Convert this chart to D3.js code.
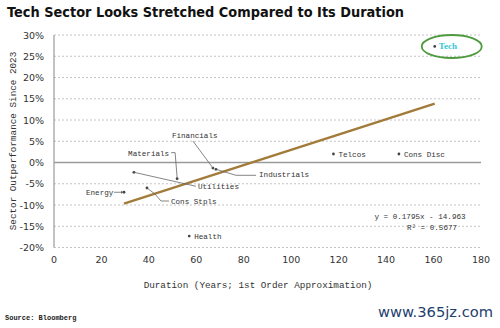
<!DOCTYPE html>
<html><head><meta charset="utf-8">
<script src="https://cdn.jsdelivr.net/npm/d3@7"></script>
<style>body{margin:0;background:#fff}svg{display:block}</style>
</head><body>
<svg id="c" width="500" height="328"></svg>
<script>
const sectors = ["Energy","Utilities","Cons Stpls","Materials","Financials","Industrials","Health","Telcos","Cons Disc","Tech"];
const duration = [29.5, 33.7, 39.2, 51.9, 67.0, 68.3, 57.0, 117.8, 145.4, 160.5];
const outperf = [-7.0, -2.3, -6.0, -3.8, -1.3, -1.6, -17.3, 2.0, 2.0, 27.3];
const yTicks = [-20,-15,-10,-5,0,5,10,15,20,25,30];
const xTicks = [0,20,40,60,80,100,120,140,160,180];
const slope = 0.1795, intercept = -14.963, r2 = 0.5677;

const svg = d3.select("#c");
const x = d3.scaleLinear().domain([0,180]).range([54,481]);
const y = d3.scaleLinear().domain([-20,30]).range([247.5,35]);
const mono = "'Liberation Mono','DejaVu Sans Mono',monospace";
const sans = "'DejaVu Sans',Verdana,sans-serif";

// title
svg.append("text").attr("x",7).attr("y",17).attr("font-family",sans).attr("font-weight","bold")
  .attr("font-size",14.5).attr("fill","#111").attr("textLength",397).attr("lengthAdjust","spacingAndGlyphs")
  .text("Tech Sector Looks Stretched Compared to Its Duration");

// gridlines
svg.append("g").selectAll("line").data(yTicks.filter(d=>d!==0)).join("line")
  .attr("x1",x(0)).attr("x2",x(180)).attr("y1",d=>y(d)).attr("y2",d=>y(d))
  .attr("stroke","#c4c4c4").attr("stroke-width",1).attr("stroke-dasharray","2,2");
// zero line
svg.append("line").attr("x1",x(0)).attr("x2",x(180)).attr("y1",y(0)).attr("y2",y(0))
  .attr("stroke","#9a9a9a").attr("stroke-width",1.5);
// y axis line
svg.append("line").attr("x1",x(0)).attr("x2",x(0)).attr("y1",y(30)).attr("y2",y(-20))
  .attr("stroke","#9a9a9a").attr("stroke-width",1.2);

// y tick labels
svg.append("g").selectAll("text").data(yTicks).join("text")
  .attr("x",44).attr("y",d=>y(d)+3.5).attr("text-anchor","end")
  .attr("font-family",sans).attr("font-size",9.5).attr("fill","#333").text(d=>d+"%");
// x tick labels
svg.append("g").selectAll("text").data(xTicks).join("text")
  .attr("x",d=>x(d)).attr("y",263).attr("text-anchor","middle")
  .attr("font-family",sans).attr("font-size",9.5).attr("fill","#333").text(d=>d);

// axis titles
svg.append("text").attr("x",258).attr("y",288).attr("text-anchor","middle")
  .attr("font-family",mono).attr("font-size",9.3).attr("fill","#333")
  .text("Duration (Years; 1st Order Approximation)");
svg.append("text").attr("transform","translate(16,141) rotate(-90)").attr("text-anchor","middle")
  .attr("font-family",mono).attr("font-size",9.3).attr("fill","#333")
  .text("Sector Outperformance Since 2023");

// trend line
const xmin = d3.min(duration), xmax = d3.max(duration);
svg.append("line").attr("x1",x(xmin)).attr("y1",y(slope*xmin+intercept))
  .attr("x2",x(xmax)).attr("y2",y(slope*xmax+intercept))
  .attr("stroke","#a27b3a").attr("stroke-width",2.5);

// points
const pts = sectors.map((s,i)=>({s, dx:duration[i], dy:outperf[i]}));
svg.append("g").selectAll("circle").data(pts).join("circle")
  .attr("cx",d=>x(d.dx)).attr("cy",d=>y(d.dy)).attr("r",1.4).attr("fill","#444");

const lab = (tx,ty,t,anchor,col,fs) => svg.append("text").attr("x",tx).attr("y",ty)
  .attr("text-anchor",anchor||"start").attr("font-family",mono).attr("font-size",fs||7.6)
  .attr("fill",col||"#333").text(t);
const P = name => { const i = sectors.indexOf(name); return [x(duration[i]), y(outperf[i])]; };
const conn = (pts2) => svg.append("path").attr("d",d3.line()(pts2)).attr("fill","none")
  .attr("stroke","#666").attr("stroke-width",0.8);

// Energy
{ const [px,py]=P("Energy"); lab(px-38,py+2.5,"Energy","start");
  conn([[px-10,py],[px-3,py]]);
  svg.append("path").attr("d",`M${px-3},${py-1.5}L${px-0.5},${py}L${px-3},${py+1.5}Z`).attr("fill","#666"); }
// Materials
{ const [px,py]=P("Materials"); lab(px-49,py-23,"Materials","start");
  conn([[px-6,py-26],[px-2,py-26],[px,py-1]]); }
// Financials
{ const [px,py]=P("Financials"); lab(px-41,py-30,"Financials","start");
  conn([[px-20,py-27],[px,py]]); }
// Industrials
{ const [px,py]=P("Industrials"); lab(px+43,py+8,"Industrials","start");
  conn([[px,py],[px+20,py+6],[px+40,py+6]]); }
// Utilities
{ const [px,py]=P("Utilities"); lab(px+64,py+17,"Utilities","start");
  conn([[px,py],[px+62,py+14]]); }
// Cons Stpls
{ const [px,py]=P("Cons Stpls"); lab(px+24,py+16,"Cons Stpls","start");
  conn([[px,py],[px+8,py+6],[px+14,py+13],[px+22,py+13]]); }
// Health, Telcos, Cons Disc
["Health","Telcos","Cons Disc"].forEach(n=>{ const [px,py]=P(n); lab(px+5,py+2.6,n,"start"); });
// Tech
{ const [px,py]=P("Tech"); lab(px+4,py+2.8,"Tech","start","#2fc6d8",9).attr("font-family","'Liberation Serif',serif").attr("font-weight","bold");
  svg.append("ellipse").attr("cx",px+17).attr("cy",py).attr("rx",30).attr("ry",11.5)
    .attr("fill","none").attr("stroke","#4e9a3e").attr("stroke-width",1.8); }

// equation
lab(420,219,`y = ${slope}x - ${Math.abs(intercept)}`,"middle","#333",7.6);
lab(432,230,`R² = ${r2}`,"middle","#333",7.6);

// source & watermark
svg.append("text").attr("x",5).attr("y",320).attr("font-family",mono).attr("font-weight","bold")
  .attr("font-size",7).attr("fill","#222").text("Source: Bloomberg");
svg.append("text").attr("x",378).attr("y",317)
  .attr("font-family","'DejaVu Sans',sans-serif").attr("font-size",14).attr("fill","#1e3f6e")
  .attr("textLength",115).attr("lengthAdjust","spacingAndGlyphs")
  .text("www.365jz.com");
</script>
</body></html>
